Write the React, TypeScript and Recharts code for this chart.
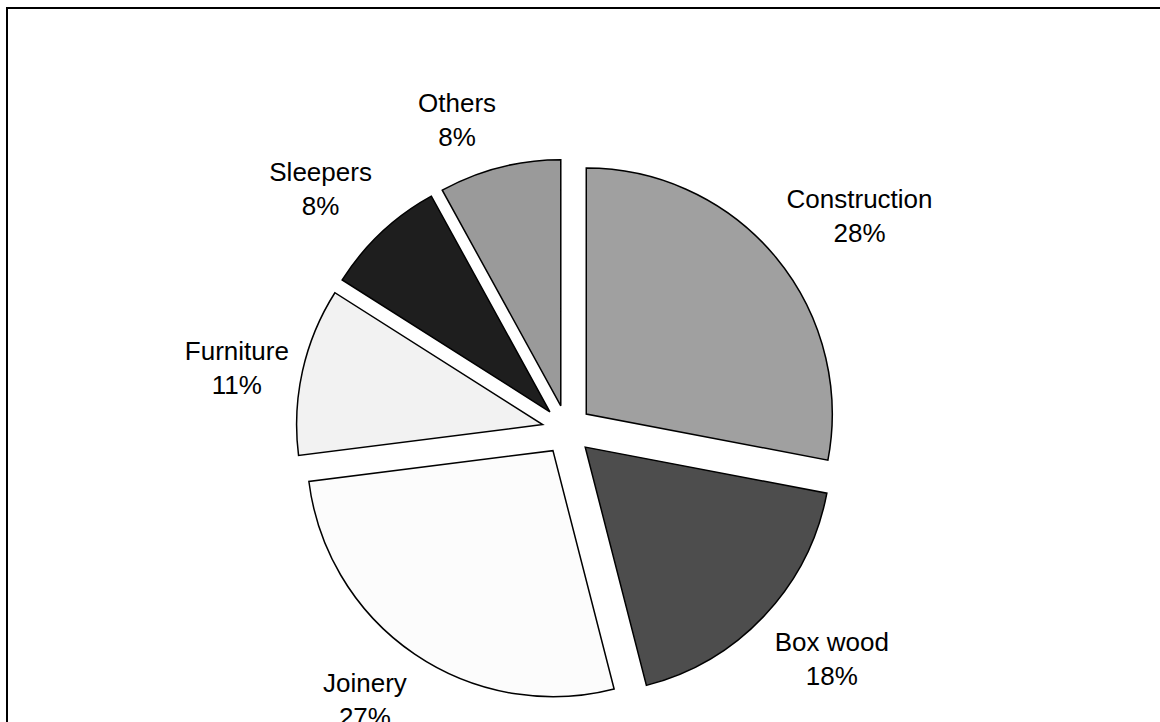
import { Cell, Pie, PieChart } from "recharts"

const categories = ["Construction", "Box wood", "Joinery", "Furniture", "Sleepers", "Others"]
const shares = [28, 18, 27, 11, 8, 8]
const fills = ["#a0a0a0", "#4d4d4d", "#fcfcfc", "#f2f2f2", "#1e1e1e", "#9a9a9a"]

const data = categories.map((name, i) => ({ name, value: shares[i] }))

const RADIAN = Math.PI / 180
// chart margin is 5px, so these are page coords minus 5
const CX = 562
const CY = 425
const RADIUS = 246
const EXPLODE = 25
const FONT_SIZE = 26
const LINE_H = 34
const FONT = "'Liberation Sans', Arial, sans-serif"

let ctx: CanvasRenderingContext2D | null = null
function textWidth(s: string) {
  if (!ctx) ctx = document.createElement("canvas").getContext("2d")
  if (!ctx) return s.length * FONT_SIZE * 0.55
  ctx.font = `${FONT_SIZE}px ${FONT}`
  return ctx.measureText(s).width
}

const clamp = (v: number, lo: number, hi: number) => Math.min(hi, Math.max(lo, v))

// mid angle of every slice, going clockwise from 12 o'clock
const total = shares.reduce((a, b) => a + b, 0)
const midAngles = shares.map((v, i) => {
  const before = shares.slice(0, i).reduce((a, b) => a + b, 0)
  return 90 - ((before + v / 2) / total) * 360
})

export default function App() {
  return (
    <div
      style={{
        position: "fixed",
        left: 0,
        top: 0,
        width: 1160,
        height: 722,
        overflow: "hidden",
        background: "#fff",
      }}
    >
      <div
        style={{
          position: "absolute",
          left: 6,
          top: 7,
          width: 1200,
          height: 800,
          border: "2px solid #000",
        }}
      />
      <div style={{ position: "absolute", left: 0, top: 0 }}>
        <PieChart width={1160} height={722}>
          {data.map((d, i) => {
            const mid = midAngles[i]
            const renderLabel = (p: any) => {
              if (p.index !== i) return null
              const a = -p.midAngle * RADIAN
              const ux = Math.cos(a)
              const uy = Math.sin(a)
              // label box corner touches a point just outside the slice
              const ax = p.cx + (p.outerRadius + 14) * ux
              const ay = p.cy + (p.outerRadius + 14) * uy
              const pct = `${Math.round(p.percent * 100)}%`
              const w = Math.max(textWidth(d.name), textWidth(pct))
              const x = ax + (Math.sign(ux) * w) / 2
              const y = ay + Math.sign(uy) * LINE_H * clamp((Math.abs(uy) - 0.25) / 0.4, 0, 1)
              const capMid = FONT_SIZE * 0.358
              return (
                <text
                  key={`lbl-${i}`}
                  x={x}
                  y={y}
                  textAnchor="middle"
                  fill="#000"
                  fontSize={FONT_SIZE}
                  fontFamily={FONT}
                >
                  <tspan x={x} y={y - LINE_H / 2 + capMid}>
                    {d.name}
                  </tspan>
                  <tspan x={x} y={y + LINE_H / 2 + capMid}>
                    {pct}
                  </tspan>
                </text>
              )
            }
            return (
              <Pie
                key={d.name}
                data={data}
                dataKey="value"
                nameKey="name"
                cx={CX + EXPLODE * Math.cos(mid * RADIAN)}
                cy={CY - EXPLODE * Math.sin(mid * RADIAN)}
                outerRadius={RADIUS}
                startAngle={90}
                endAngle={-270}
                label={renderLabel}
                labelLine={false}
                isAnimationActive={false}
              >
                {data.map((c, j) => (
                  <Cell
                    key={c.name}
                    fill={j === i ? fills[j] : "none"}
                    stroke={j === i ? "#000" : "none"}
                    strokeWidth={1.5}
                  />
                ))}
              </Pie>
            )
          })}
        </PieChart>
      </div>
    </div>
  )
}
